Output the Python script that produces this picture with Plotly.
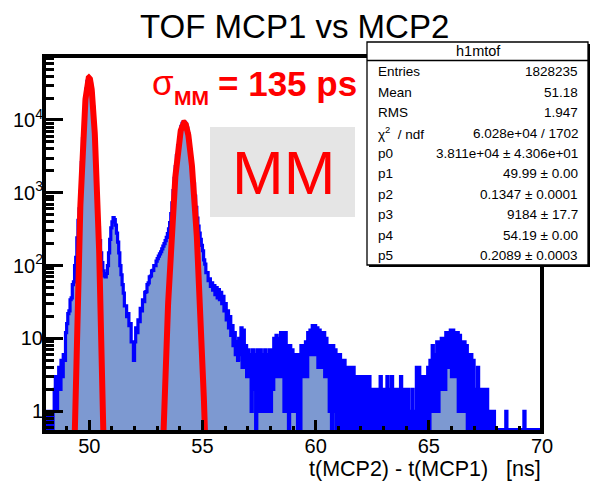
import numpy as np
import plotly.graph_objects as go

# ---------------- data ----------------
bin_lo = 48.0
bin_width = 0.05
counts = [
    0, 0, 1, 0, 1, 0, 1, 0, 1, 2,                     # 48.0
    3, 1, 3, 4, 2, 5, 3, 6, 5, 12,                    # 48.5
    16, 22, 24, 34, 36, 55, 60, 100, 130, 240,        # 49.0
    420, 600, 1050, 2600, 5600, 10500, 18000, 26500, 34000, 37500,  # 49.5
    37000, 31000, 23000, 15000, 8400, 4200, 1900, 750, 330, 220,    # 50.0
    150, 110, 85, 72, 70, 78, 100, 150, 230, 330,     # 50.5
    400, 455, 430, 360, 280, 210, 150, 100, 75, 55,   # 51.0
    42, 28, 28, 20, 22, 15, 16, 9, 9, 5,              # 51.5
    9, 14, 12, 18, 17, 26, 24, 34, 32, 43,            # 52.0
    44, 55, 58, 70, 72, 85, 86, 100, 100, 115,        # 52.5
    125, 135, 145, 155, 170, 185, 200, 220, 245, 275, # 53.0
    320, 390, 520, 730, 1070, 1580, 2290, 3240, 4400, 5700,  # 53.5
    7000, 8150, 9000, 9400, 9300, 8700, 7700, 6450, 5100, 3850,  # 54.0
    2830, 1970, 1330, 900, 630, 450, 350, 280, 230, 190,  # 54.5
    160, 120, 105, 80, 80, 62, 66, 52, 58, 46,        # 55.0
    53, 40, 50, 36, 47, 34, 43, 30, 38, 24,           # 55.5
    30, 18, 24, 14, 20, 11, 15, 8, 12, 6,             # 56.0
    9, 5, 10, 6, 14, 4, 13, 4, 8, 3,                  # 56.5
    7, 3, 6, 1, 7, 2, 6, 0, 7, 1,                     # 57.0
    2, 7, 1, 6, 1, 7, 1, 6, 1, 7,                     # 57.5
    1, 7, 2, 10, 3, 11, 3, 10, 3, 12,                 # 58.0
    3, 12, 1, 12, 1, 8, 0, 8, 1, 7,                   # 58.5
    1, 6, 1, 6, 0, 6, 0, 8, 3, 8,                     # 59.0
    3, 9, 3, 12, 6, 13, 6, 15, 6, 15,                 # 59.5
    6, 14, 4, 13, 4, 12, 4, 12, 3, 10,                # 60.0
    3, 8, 1, 8, 0, 8, 1, 7, 0, 6,                     # 60.5
    0, 6, 0, 5, 0, 5, 0, 4, 0, 4,                     # 61.0
    0, 4, 0, 4, 0, 3, 0, 3, 0, 3,                     # 61.5
    0, 3, 0, 3, 0, 3, 0, 3, 0, 2,                     # 62.0
    0, 2, 0, 2, 0, 2, 0, 3, 0, 2,                     # 62.5
    0, 2, 0, 3, 0, 2, 0, 3, 0, 2,                     # 63.0
    0, 2, 0, 2, 0, 3, 0, 2, 0, 2,                     # 63.5
    0, 2, 0, 1, 0, 2, 0, 1, 0, 4,                     # 64.0
    0, 4, 0, 3, 0, 3, 0, 3, 0, 4,                     # 64.5
    0, 5, 1, 8, 1, 6, 1, 9, 1, 9,                     # 65.0
    2, 10, 2, 10, 2, 12, 4, 12, 4, 13,                # 65.5
    3, 13, 3, 12, 3, 12, 1, 11, 1, 9,                 # 66.0
    1, 9, 1, 8, 0, 6, 0, 6, 0, 5,                     # 66.5
    0, 2, 0, 4, 0, 2, 0, 2, 0, 2,                     # 67.0
    0, 2, 0, 1, 0, 1, 0, 1, 0, 0,                     # 67.5
    0, 0, 0, 0, 0, 0, 0, 0, 1, 0,                     # 68.0
    0, 0, 0, 0, 0, 0, 0, 0, 0, 0,                     # 68.5
    0, 0, 0, 0, 1, 0, 0, 0, 0, 0,                     # 69.0
    0, 0, 0, 0, 0, 0, 0, 0, 0, 0,                     # 69.5
]

# fit parameters (gaus(0) + gaus(3)) from the stats box
gaus1 = [3.811e4, 49.99, 0.1347]   # p0, p1, p2
gaus2 = [9184.0, 54.19, 0.2089]    # p3, p4, p5

stats_title = "h1mtof"
stats_labels = ["Entries", "Mean", "RMS", "χ<sup>2</sup>  / ndf",
                "p0", "p1", "p2", "p3", "p4", "p5"]
stats_values = ["1828235", "51.18", "1.947", "6.028e+04 / 1702",
                "3.811e+04 ± 4.306e+01", "49.99 ± 0.00", "0.1347 ± 0.0001",
                "9184 ± 17.7", "54.19 ± 0.00", "0.2089 ± 0.0003"]

x_range = [48, 70]
y_range = [0.52, 75500]
x_major = [50, 55, 60, 65, 70]
x_minor = [48, 49, 51, 52, 53, 54, 56, 57, 58, 59, 61, 62, 63, 64, 66, 67, 68, 69]
y_major = [1, 10, 100, 1000, 10000]
y_major_text = ["1", "10", "10<sup>2</sup>", "10<sup>3</sup>", "10<sup>4</sup>"]
y_minor = [m * d for d in [0.1, 1, 10, 100, 1000, 10000] for m in range(2, 10)]

title_text = "TOF MCP1 vs MCP2"
x_title = "t(MCP2) - t(MCP1)\u00a0\u00a0\u00a0[ns]"

# ---------------- geometry helpers (pixel -> paper) ----------------
W, H = 590, 482
L, R, T, B = 44, 542, 56, 432
PW, PH = R - L, B - T


def X(px):
    return (px - L) / PW


def Y(py):
    return (B - py) / PH


FONT = "Liberation Sans, Arial, Helvetica, sans-serif"

# ---------------- histogram trace ----------------
c = np.array(counts, dtype=float)
edges = bin_lo + bin_width * np.arange(len(c) + 1)
floor = y_range[0] * 1.08
yplot = np.where(c > 0, c, floor)
xs = edges
ys = np.append(yplot, yplot[-1])

fig = go.Figure()
fig.add_trace(go.Scatter(
    x=xs, y=ys, mode="lines", line_shape="hv",
    line=dict(color="#0000ff", width=3.2),
    fill="tozeroy", fillcolor="rgb(125,153,209)",
    hoverinfo="skip", showlegend=False))

# fit curves
for (amp, mu, sig) in (gaus1, gaus2):
    xf = np.linspace(mu - 5 * sig, mu + 5 * sig, 301)
    yf = amp * np.exp(-0.5 * ((xf - mu) / sig) ** 2)
    fig.add_trace(go.Scatter(x=xf, y=yf, mode="lines",
                             line=dict(color="#ff0000", width=6),
                             hoverinfo="skip", showlegend=False))

shapes = []
annotations = []

# frame
shapes.append(dict(type="rect", xref="paper", yref="paper", x0=0, x1=1, y0=0, y1=1,
                   line=dict(color="black", width=4), layer="above"))

# grey MM box
shapes.append(dict(type="rect", xref="paper", yref="paper",
                   x0=X(210), x1=X(355), y0=Y(217), y1=Y(127),
                   fillcolor="#e5e5e5", line=dict(width=0), layer="above"))

# stats box with shadow
shapes.append(dict(type="rect", xref="paper", yref="paper",
                   x0=X(369), x1=X(590), y0=Y(267), y1=Y(44),
                   fillcolor="black", line=dict(width=0), layer="above"))
shapes.append(dict(type="rect", xref="paper", yref="paper",
                   x0=X(367), x1=X(588), y0=Y(265), y1=Y(42),
                   fillcolor="white", line=dict(color="black", width=1.3), layer="above"))
shapes.append(dict(type="line", xref="paper", yref="paper",
                   x0=X(367), x1=X(588), y0=Y(60.5), y1=Y(60.5),
                   line=dict(color="black", width=1.3), layer="above"))


def ann(text, px, py, size, color="black", xanchor="center", bold=False):
    if bold:
        text = "<b>" + text + "</b>"
    annotations.append(dict(text=text, x=X(px), y=Y(py), xref="paper", yref="paper",
                            xanchor=xanchor, yanchor="middle", showarrow=False,
                            font=dict(family=FONT, size=size, color=color)))


ann(stats_title, 478, 51, 14.5)
for k, (lab, val) in enumerate(zip(stats_labels, stats_values)):
    yy = 71.7 + 20.45 * k
    ann(lab, 376, yy, 13.5, xanchor="left")
    ann(val, 580, yy, 13.5, xanchor="right")

# title
ann(title_text, 294, 27, 33)

# sigma label
ann("σ", 163, 82, 35, color="#ff0000")
ann("MM", 191, 97, 21, color="#ff0000", bold=True)
ann("= 135 ps", 216, 83, 35, color="#ff0000", xanchor="left", bold=True)

# MM label
ann("MM", 283, 172, 62, color="#ff0000")

# x title
ann(x_title, 543, 469, 21.5, xanchor="right")

fig.update_layout(
    width=W, height=H,
    margin=dict(l=L, r=W - R, t=T, b=H - B, pad=0),
    paper_bgcolor="white", plot_bgcolor="white",
    font=dict(family=FONT, color="black"),
    showlegend=False,
    shapes=shapes, annotations=annotations,
    xaxis=dict(range=x_range, showgrid=False, zeroline=False, showline=False,
               tickmode="array", tickvals=x_major, ticks="inside", ticklen=12,
               tickwidth=2.5, tickcolor="black",
               tickfont=dict(family=FONT, size=20, color="black"),
               minor=dict(tickvals=x_minor, ticks="inside", ticklen=6,
                          tickwidth=2.5, tickcolor="black", showgrid=False)),
    yaxis=dict(type="log", range=[np.log10(y_range[0]), np.log10(y_range[1])],
               showgrid=False, zeroline=False, showline=False,
               tickmode="array", tickvals=y_major, ticktext=y_major_text,
               ticks="inside", ticklen=19, tickwidth=2.5, tickcolor="black",
               tickfont=dict(family=FONT, size=20, color="black"),
               minor=dict(tickvals=y_minor, ticks="inside", ticklen=10,
                          tickwidth=2.5, tickcolor="black", showgrid=False)),
)

fig.write_html("out.html")
